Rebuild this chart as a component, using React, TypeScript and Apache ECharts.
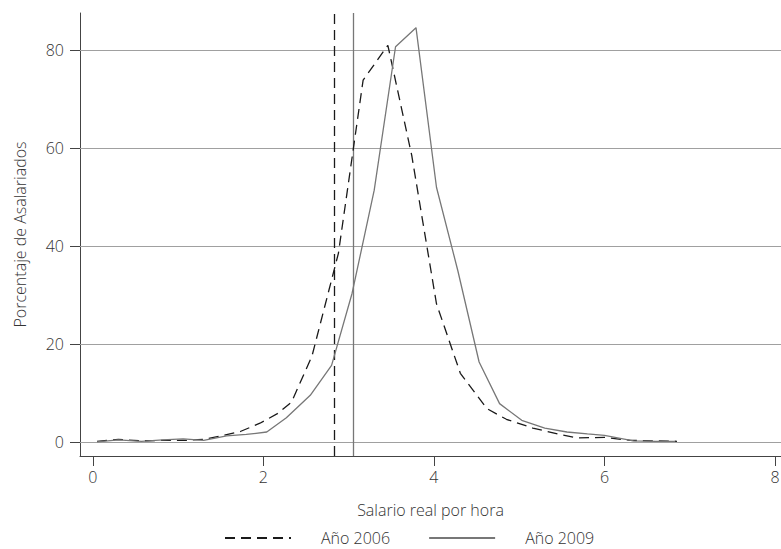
import React, { useEffect, useRef } from "react";
import * as echarts from "echarts";

const x2006 = [0.05, 0.3, 0.57, 0.85, 1.1, 1.3, 1.5, 1.73, 1.96, 2.17, 2.33, 2.57, 2.88, 3.17, 3.46, 3.74, 4.03, 4.31, 4.62, 4.85, 5.16, 5.45, 5.68, 6.0, 6.3, 6.55, 6.85];
const y2006 = [0.1, 0.5, 0.2, 0.3, 0.3, 0.5, 1.2, 2.1, 3.8, 5.8, 8.1, 17.5, 38.5, 73.9, 81.0, 58.5, 28.2, 14.0, 6.8, 4.6, 2.8, 1.6, 0.8, 0.9, 0.3, 0.2, 0.1];
const x2009 = [0.05, 0.3, 0.57, 0.82, 1.06, 1.3, 1.57, 1.8, 2.04, 2.27, 2.55, 2.8, 3.04, 3.3, 3.55, 3.79, 4.03, 4.28, 4.53, 4.77, 5.03, 5.3, 5.56, 5.8, 6.0, 6.34, 6.6, 6.83];
const y2009 = [0, 0.4, 0.1, 0.4, 0.6, 0.3, 1.2, 1.5, 2.0, 4.9, 9.5, 15.6, 30.3, 51.4, 80.7, 84.6, 52.0, 35.0, 16.3, 7.8, 4.4, 2.8, 2.0, 1.6, 1.3, 0.2, 0.1, 0.1];
const ref2006 = 2.825;
const ref2009 = 3.06;
const xTicks = [0, 2, 4, 6, 8];
const yTicks = [0, 20, 40, 60, 80];
const seriesNames = ["Año 2006", "Año 2009"];

const FONT = "'Open Sans', 'Noto Sans', sans-serif";

export default function App() {
  const ref = useRef<HTMLDivElement>(null);
  useEffect(() => {
    if (!ref.current) return;
    const chart = echarts.init(ref.current, null, { renderer: "svg" });
    const d2006 = x2006.map((x, i) => [x, y2006[i]]);
    const d2009 = x2009.map((x, i) => [x, y2009[i]]);
    chart.setOption({
      animation: false,
      backgroundColor: "#ffffff",
      textStyle: { fontFamily: FONT },
      grid: { left: 80, right: 0, top: 13, bottom: 93, outerBoundsMode: "none" },
      legend: {
        left: 224,
        top: 530,
        padding: 0,
        itemWidth: 66,
        itemHeight: 14,
        itemGap: 38,
        itemStyle: { opacity: 0 },
        textStyle: { fontSize: 16, color: "#333", fontFamily: FONT, fontWeight: 300, padding: [0, 0, 0, 25] },
        data: seriesNames,
      },
      xAxis: {
        type: "value",
        min: -0.15,
        max: 8.07,
        name: "Salario real por hora",
        nameLocation: "middle",
        nameGap: 46,
        nameTextStyle: { fontSize: 16, color: "#333", fontFamily: FONT, fontWeight: 300 },
        axisLine: { show: true, onZero: false, lineStyle: { color: "#444", width: 1 } },
        axisTick: { show: true, length: 10, customValues: xTicks, lineStyle: { color: "#444" } },
        axisLabel: { customValues: xTicks, fontSize: 16, color: "#333", margin: 13, fontFamily: FONT, fontWeight: 300 },
        splitLine: { show: false },
      },
      yAxis: {
        type: "value",
        min: -2.9,
        max: 87.6,
        name: "Porcentaje de Asalariados",
        nameLocation: "middle",
        nameGap: 52,
        nameTextStyle: { fontSize: 16, color: "#333", fontFamily: FONT, fontWeight: 300 },
        axisLine: { show: true, onZero: false, lineStyle: { color: "#444", width: 1 } },
        axisTick: { show: true, length: 10, customValues: yTicks, lineStyle: { color: "#444" } },
        axisLabel: { customValues: yTicks, fontSize: 16, color: "#333", margin: 16, fontFamily: FONT, fontWeight: 300 },
        splitLine: { show: false },
      },
      series: [
        {
          name: "grid",
          type: "line",
          data: [],
          z: 1,
          markLine: {
            silent: true,
            symbol: "none",
            z: 1,
            label: { show: false },
            lineStyle: { color: "#a0a0a0", type: "solid", width: 1 },
            data: yTicks.map((v) => ({ yAxis: v })),
          },
        },
        {
          name: seriesNames[0],
          type: "line",
          data: d2006,
          showSymbol: false,
          symbol: "none",
          z: 3,
          lineStyle: { color: "#1a1a1a", width: 1.3, type: [10, 6] },
          itemStyle: { color: "#1a1a1a" },
          markLine: {
            silent: true,
            symbol: "none",
            z: 3,
            label: { show: false },
            lineStyle: { color: "#1a1a1a", type: [10, 6], width: 1.3 },
            data: [{ xAxis: ref2006 }],
          },
        },
        {
          name: seriesNames[1],
          type: "line",
          data: d2009,
          showSymbol: false,
          symbol: "none",
          z: 3,
          lineStyle: { color: "#777777", width: 1.3, type: "solid" },
          itemStyle: { color: "#777777" },
          markLine: {
            silent: true,
            symbol: "none",
            z: 3,
            label: { show: false },
            lineStyle: { color: "#777777", type: "solid", width: 1.3 },
            data: [{ xAxis: ref2009 }],
          },
        },
      ],
    });
    return () => chart.dispose();
  }, []);
  return <div ref={ref} style={{ width: 781, height: 549, position: "absolute", left: 0, top: 0 }} />;
}
